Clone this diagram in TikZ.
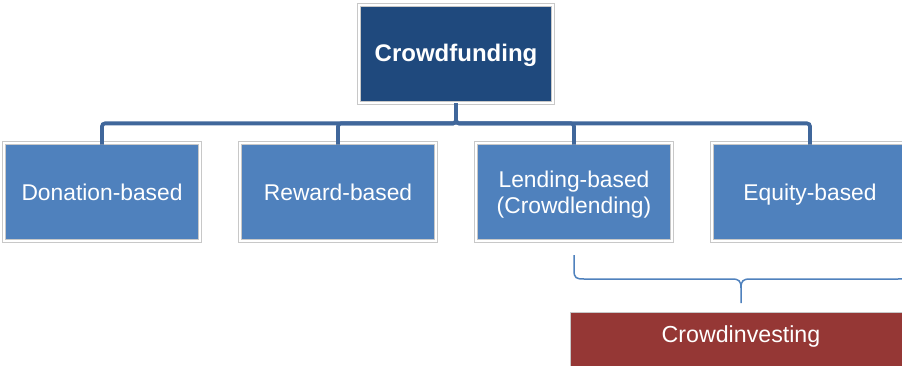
\documentclass[tikz,border=0pt]{standalone}
\usepackage{fontspec}
\setmainfont{Liberation Sans}
\definecolor{topblue}{HTML}{1F497D}
\definecolor{childblue}{HTML}{4F81BD}
\definecolor{linkblue}{HTML}{40679B}
\definecolor{crowdred}{HTML}{953735}
\definecolor{framegray}{HTML}{C8C8C8}
\begin{document}
\begin{tikzpicture}[x=1pt,y=-1pt,
  framed/.style={draw=framegray, line width=0.8pt, double=white, double distance=2.4pt,
    inner sep=0pt, align=center, text=white},
  topbox/.style={framed, fill=topblue, minimum width=194pt, minimum height=98pt,
    font=\fontsize{24}{28}\selectfont\bfseries, text height=17.2pt, text depth=2.2pt},
  childbox/.style={framed, fill=childblue, minimum width=196pt, minimum height=98pt,
    font=\fontsize{22.8}{25.5}\selectfont, text height=16.4pt, text depth=0pt},
  redbox/.style={fill=crowdred, draw=framegray, line width=0.8pt, inner sep=0pt,
    minimum width=342pt, minimum height=58pt},
  redtext/.style={text=white, font=\fontsize{23.2}{27}\selectfont, inner sep=0pt},
  link/.style={draw=linkblue, line width=3.8pt, rounded corners=3pt},
  bracket/.style={draw=childblue, line width=1.5pt}]
\useasboundingbox (0,0) rectangle (902,366);
\node[redbox] (ci) at (741,341) {};
\node[redtext, anchor=base] (citext) at (741,342.5) {Crowdinvesting};
\node[topbox] (top) at (456,54) {Crowdfunding};
\node[childbox] (don) at (102,192) {Donation-based};
\node[childbox] (rew) at (338,192) {Reward-based};
\node[childbox, text height=43pt, text depth=0pt] (len) at (574,192) {Lending-based\\(Crowdlending)};
\node[childbox] (equ) at (810,192) {Equity-based};
\foreach \c in {don,rew,len,equ}
  \draw[link] (top.south) -- ++(0,20) -| ([yshift=-2pt]\c.north);
\coordinate (bl) at (574,255);
\coordinate (bt) at (741,303);
\coordinate (br) at (908,255);
\draw[bracket] (bl) -- (574,270) .. controls (574,278) and (576,279) .. (584,279)
  -- (732,279) .. controls (739,279) and (741,281) .. (741,288) -- (bt);
\draw[bracket] (br) -- (908,270) .. controls (908,278) and (906,279) .. (898,279)
  -- (750,279) .. controls (743,279) and (741,281) .. (741,288);
\end{tikzpicture}
\end{document}
